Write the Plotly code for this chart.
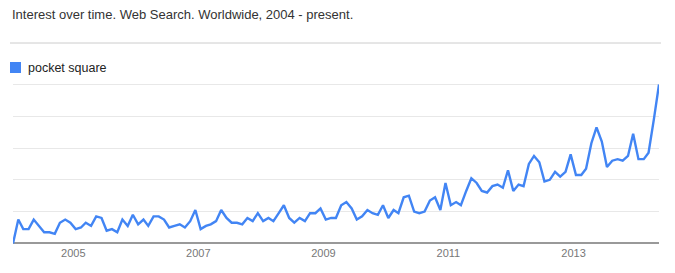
import plotly.graph_objects as go

# Monthly interest values, Jan 2004 - May 2014
series_name = "pocket square"
values = [
    0, 15, 9, 9, 15, 11, 7, 7, 6, 13, 15, 13,          # 2004
    9, 10, 13, 11, 17, 16, 8, 9, 7, 15, 11, 18,         # 2005
    12, 15, 11, 17, 17, 15, 10, 11, 12, 10, 14, 21,     # 2006
    9, 11, 12, 14, 21, 16, 13, 13, 12, 16, 14, 19,      # 2007
    14, 16, 14, 19, 24, 16, 13, 16, 14, 19, 19, 22,     # 2008
    15, 16, 16, 24, 26, 22, 15, 17, 21, 19, 18, 24,     # 2009
    16, 21, 19, 29, 30, 20, 19, 20, 27, 29, 21, 38,     # 2010
    24, 26, 24, 33, 41, 38, 33, 32, 36, 37, 35, 46,     # 2011
    33, 37, 36, 50, 55, 51, 39, 40, 45, 42, 45, 56,     # 2012
    43, 43, 47, 63, 73, 64, 48, 52, 53, 52, 55, 69,     # 2013
    53, 53, 57, 78, 100,                                # 2014
]
start_year = 2004
months = [f"{start_year + i // 12}-{i % 12 + 1:02d}-15" for i in range(len(values))]

tick_years = ["2005", "2007", "2009", "2011", "2013"]
tick_dates = [f"{y}-01-01" for y in tick_years]
grid_vals = [20, 40, 60, 80, 100]

BLUE = "#4285f4"
FONT = "Liberation Sans, Arial, sans-serif"

fig = go.Figure()
fig.add_trace(go.Scatter(
    x=months, y=values, mode="lines",
    line=dict(color=BLUE, width=2.4),
    showlegend=False, hoverinfo="x+y",
))

fig.update_layout(
    width=675, height=273,
    margin=dict(l=13, r=16, t=82, b=28),
    paper_bgcolor="white", plot_bgcolor="white",
    font=dict(family=FONT, size=11, color="#666"),
    showlegend=False,
    xaxis=dict(
        type="date",
        range=[months[0], months[-1]],
        tickvals=tick_dates, ticktext=tick_years,
        showgrid=False, ticks="", showline=False, zeroline=False,
        tickfont=dict(size=11, color="#777"),
    ),
    yaxis=dict(
        range=[-1, 101.5],
        tickvals=grid_vals, showticklabels=False,
        showgrid=True, gridcolor="#e8e8e8", gridwidth=1,
        zeroline=True, zerolinecolor="#999", zerolinewidth=1.5,
        ticks="", showline=False,
    ),
    shapes=[
        dict(type="line", xref="paper", yref="paper", x0=-3/646, x1=648/646,
             y0=1 + (82 - 43) / 163, y1=1 + (82 - 43) / 163,
             line=dict(color="#cccccc", width=1)),
        dict(type="rect", xref="paper", yref="paper",
             x0=-3/646, x1=8/646,
             y0=1 + (82 - 73) / 163, y1=1 + (82 - 62) / 163,
             fillcolor=BLUE, line=dict(width=0)),
    ],
    annotations=[
        dict(text="Interest over time. Web Search. Worldwide, 2004 - present.",
             xref="paper", yref="paper", x=-3/646, y=1 + (82 - 15) / 163,
             xanchor="left", yanchor="middle", showarrow=False,
             font=dict(family=FONT, size=13, color="#333")),
        dict(text=series_name,
             xref="paper", yref="paper", x=13/646, y=1 + (82 - 67.5) / 163,
             xanchor="left", yanchor="middle", showarrow=False,
             font=dict(family=FONT, size=12.5, color="#222")),
    ],
)

fig.write_html("out.html")
